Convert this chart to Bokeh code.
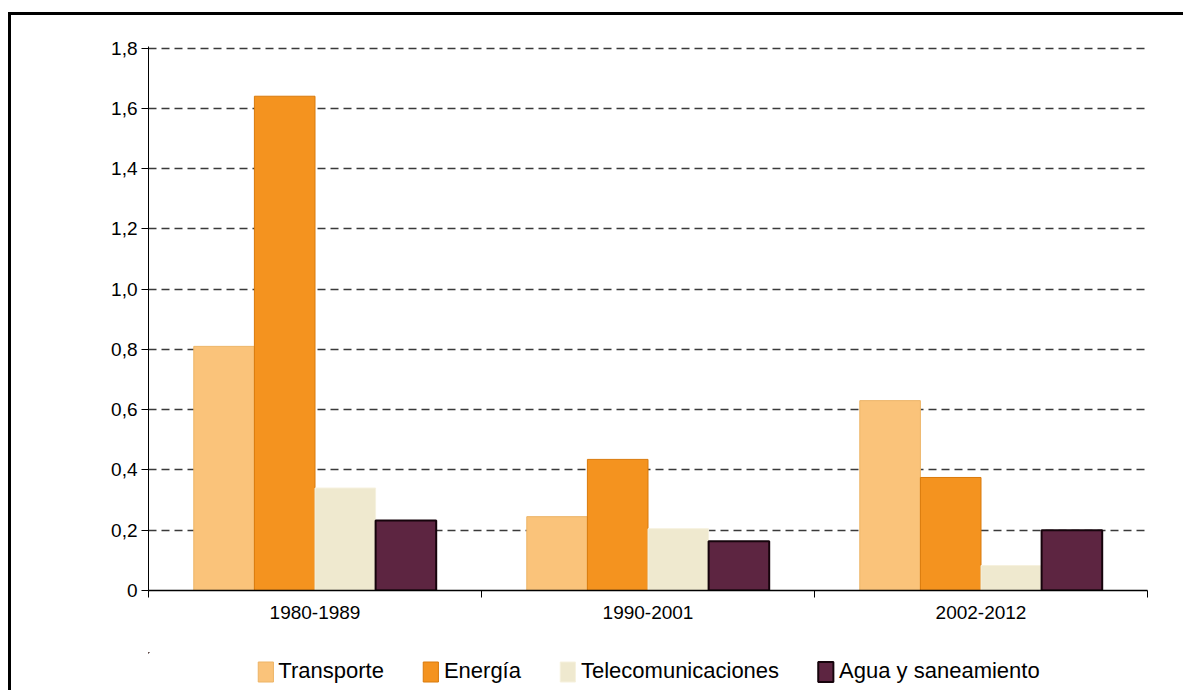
from bokeh.plotting import figure
from bokeh.models import (Range1d, FixedTicker, Legend, LegendItem)
from bokeh.layouts import column
from bokeh.embed import file_html
from bokeh.resources import INLINE

# ---- data ----
periods = ["1980-1989", "1990-2001", "2002-2012"]
series = ["Transporte", "Energía", "Telecomunicaciones", "Agua y saneamiento"]
transporte = [0.81, 0.245, 0.63]
energia = [1.64, 0.435, 0.375]
telecom = [0.34, 0.205, 0.083]
agua = [0.232, 0.163, 0.20]
y_ticks = [0, 0.2, 0.4, 0.6, 0.8, 1.0, 1.2, 1.4, 1.6, 1.8]
y_tick_labels = ["0", "0,2", "0,4", "0,6", "0,8", "1,0", "1,2", "1,4", "1,6", "1,8"]

fills = ["#FAC37A", "#F4931F", "#EFE9CF", "#5D2541"]
lines = ["#EDB466", "#D97A0C", "#F6F1DE", "#16040C"]
line_widths = [1, 1, 1, 2]

FONT = "Liberation Sans"

n = len(periods)
centers = [i + 0.5 for i in range(n)]
bar_w = 0.182
offsets = [-1.5 * bar_w, -0.5 * bar_w, 0.5 * bar_w, 1.5 * bar_w]
all_vals = [transporte, energia, telecom, agua]

p = figure(frame_width=999, frame_height=544, output_backend="svg", toolbar_location=None,
           x_range=Range1d(0, n), y_range=Range1d(0, 1.805),
           min_border_left=137, min_border_right=36, min_border_top=31, min_border_bottom=50)
p.outline_line_color = None
p.background_fill_color = "white"
p.border_fill_color = "white"

# grid
p.xgrid.grid_line_color = None
p.ygrid.ticker = FixedTicker(ticks=y_ticks)
p.ygrid.grid_line_color = "#3a3a3a"
p.ygrid.grid_line_width = 1.6
p.ygrid.grid_line_dash = "8 5"

for vals, off, fc, lc, lw in zip(all_vals, offsets, fills, lines, line_widths):
    xs = [c + off for c in centers]
    p.vbar(x=xs, top=vals, width=bar_w, bottom=0, fill_color=fc, line_color=lc, line_width=lw)

# y axis
p.yaxis.ticker = FixedTicker(ticks=y_ticks)
p.yaxis.major_label_overrides = {t: l for t, l in zip(y_ticks, y_tick_labels)}
p.yaxis.major_tick_out = 7
p.yaxis.major_tick_in = 0
p.yaxis.minor_tick_line_color = None
p.yaxis.axis_line_color = "black"
p.yaxis.major_tick_line_color = "black"
p.yaxis.major_label_text_font = FONT
p.yaxis.major_label_text_font_size = "19px"
p.yaxis.major_label_text_color = "black"
p.yaxis.major_label_standoff = 4

# x axis: labels at centers (major), boundary ticks (minor)
p.xaxis.ticker = FixedTicker(ticks=centers, minor_ticks=list(range(n + 1)))
p.xaxis.major_label_overrides = {c: l for c, l in zip(centers, periods)}
p.xaxis.major_tick_out = 0
p.xaxis.major_tick_in = 0
p.xaxis.minor_tick_out = 7
p.xaxis.minor_tick_in = 0
p.xaxis.minor_tick_line_color = "black"
p.xaxis.axis_line_color = "black"
p.xaxis.axis_line_width = 1.3
p.xaxis.major_label_text_font = FONT
p.xaxis.major_label_text_font_size = "19px"
p.xaxis.major_label_text_color = "black"
p.xaxis.major_label_standoff = 8

# ---- legend strip (separate figure aligned with the main frame) ----
# same series drawn here, but the ranges exclude them, so only the legend shows
pl = figure(frame_width=999, frame_height=38, output_backend="svg", toolbar_location=None,
            x_range=Range1d(10 * n, 11 * n), y_range=Range1d(-2, -1),
            min_border_left=137, min_border_right=36, min_border_top=12, min_border_bottom=0)
pl.axis.visible = False
pl.grid.visible = False
pl.outline_line_color = None
pl.background_fill_color = "white"
pl.border_fill_color = "white"
leg_renderers = []
for vals, off, fc, lc, lw in zip(all_vals, offsets, fills, lines, line_widths):
    xs = [c + off for c in centers]
    leg_renderers.append(pl.vbar(x=xs, top=vals, width=bar_w, bottom=0,
                                 fill_color=fc, line_color=lc, line_width=lw))

legend = Legend(items=[LegendItem(label=s, renderers=[r]) for s, r in zip(series, leg_renderers)],
                orientation="horizontal", location="center")
legend.label_text_font = FONT
legend.label_text_font_size = "22px"
legend.label_text_color = "black"
legend.glyph_width = 19
legend.glyph_height = 25
legend.label_standoff = 4
legend.spacing = 37
legend.padding = 0
legend.margin = 0
legend.border_line_color = None
legend.background_fill_alpha = 0
pl.add_layout(legend, "center")

layout = column(p, pl, spacing=0)
layout.styles = {"border-top": "3px solid black", "border-left": "3px solid black",
                 "margin-top": "12px", "margin-left": "8px"}

open("out.html", "w").write(file_html(layout, INLINE))
